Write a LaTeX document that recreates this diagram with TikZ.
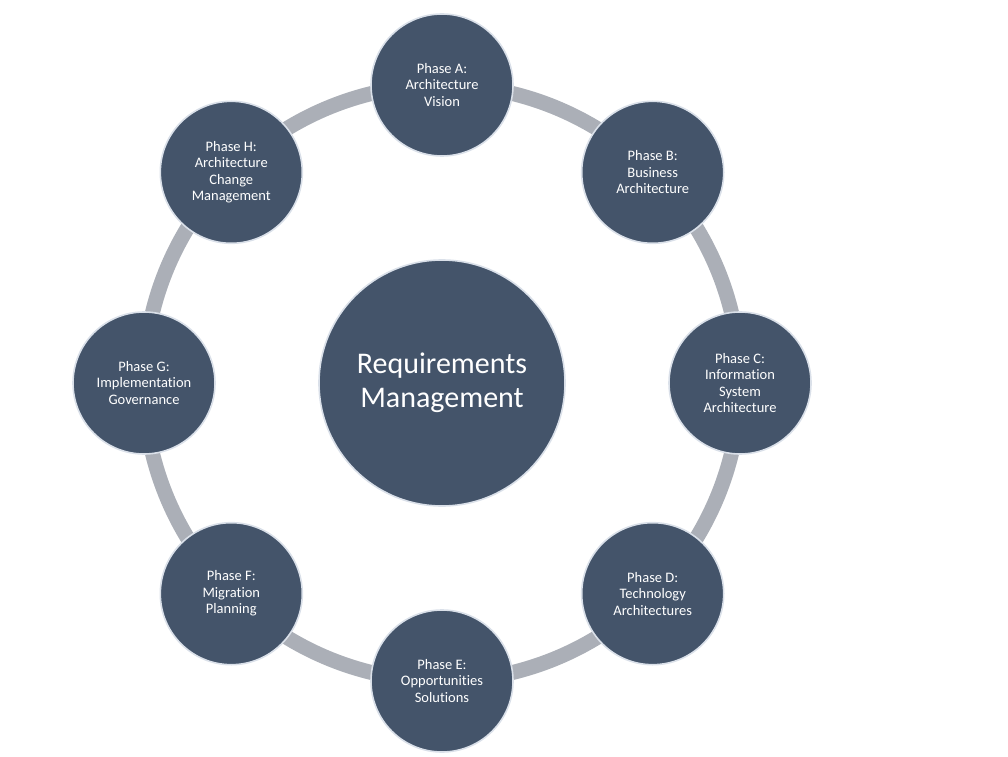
\documentclass[tikz,border=0pt]{standalone}
\usepackage{fontspec}
\setmainfont{Carlito}[Ligatures=NoCommon]
\usepackage{xcolor}
\usepackage{tikz}
\usetikzlibrary{backgrounds}
\definecolor{phasefill}{RGB}{68,84,106}
\definecolor{phaseedge}{RGB}{218,224,233}
\definecolor{ringgray}{RGB}{171,175,183}
\tikzset{
  phase/.style={circle, fill=phasefill, draw=phaseedge, line width=1.6pt,
                minimum size=142pt, inner sep=0pt, text=white, align=center,
                font=\fontsize{14.5pt}{16.5pt}\selectfont},
  hub/.style={circle, fill=phasefill, draw=phaseedge, line width=1.6pt,
              minimum size=246pt, inner sep=0pt, text=white, align=center,
              font=\fontsize{30pt}{34pt}\selectfont},
  ring/.style={line width=15pt, ringgray, bend left=22.5, looseness=0.885},
}

\begin{document}
\begin{tikzpicture}[x=1pt, y=1pt]
\useasboundingbox (0,0) rectangle (1008,756);

% ── Centre ────────────────────────────────────────────────
\node[hub] (req) at (442,373) {Requirements\\Management};

% ── Phases round the ring ─────────────────────────────────
\node[phase] (pa) at (442,671)     {Phase A:\\Architecture\\Vision};
\node[phase] (pb) at (652.7,583.7) {Phase B:\\Business\\Architecture};
\node[phase] (pc) at (740,373)     {Phase C:\\Information\\System\\Architecture};
\node[phase] (pd) at (652.7,162.3) {Phase D:\\Technology\\Architectures};
\node[phase] (pe) at (442,75)      {Phase E:\\Opportunities\\Solutions};
\node[phase] (pf) at (231.3,162.3) {Phase F:\\Migration\\Planning};
\node[phase] (pg) at (144,373)     {Phase G:\\Implementation\\Governance};
\node[phase] (ph) at (231.3,583.7) {Phase H:\\Architecture\\Change\\Management};

% ── Ring segments (behind the phases) ─────────────────────
\begin{scope}[on background layer]
  \draw[ring] (pa.center) to (pb.center);
  \draw[ring] (pb.center) to (pc.center);
  \draw[ring] (pc.center) to (pd.center);
  \draw[ring] (pd.center) to (pe.center);
  \draw[ring] (pe.center) to (pf.center);
  \draw[ring] (pf.center) to (pg.center);
  \draw[ring] (pg.center) to (ph.center);
  \draw[ring] (ph.center) to (pa.center);
\end{scope}

\end{tikzpicture}
\end{document}
